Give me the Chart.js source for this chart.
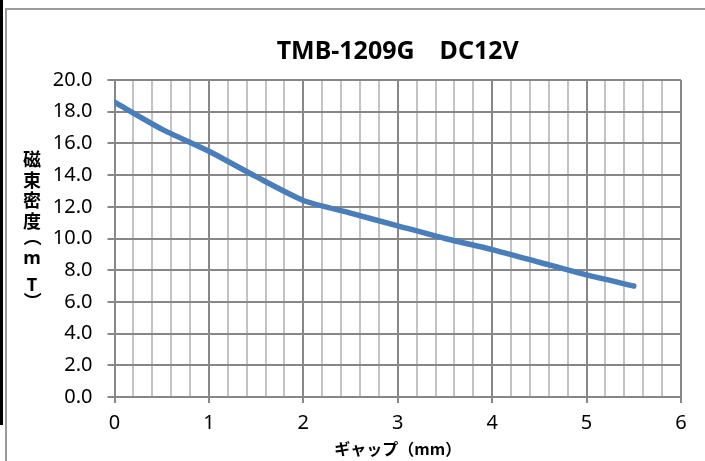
<!DOCTYPE html>
<html>
<head>
<meta charset="utf-8">
<script src="https://cdn.jsdelivr.net/npm/chart.js@4.4.1/dist/chart.umd.min.js"></script>
<style>
  html, body { margin: 0; padding: 0; background: #fff; }
  #wrap { position: relative; width: 705px; height: 461px; overflow: hidden; }
  #frameL { position: absolute; left: 0; top: 0; width: 3px; height: 425px; background: #000; }
  #frameG { position: absolute; left: 5px; top: 8px; right: -5px; bottom: -5px; border-left: 2px solid #9a9a9a; border-top: 2px solid #9a9a9a; }
  canvas { position: absolute; left: 0; top: 0; }
</style>
</head>
<body>
<div id="wrap">
  <div id="frameL"></div>
  <div id="frameG"></div>
  <canvas id="c" width="705" height="461"></canvas>
</div>
<script>
const chartTitle = 'TMB-1209G　DC12V';
const xAxisTitle = 'ギャップ（mm）';
const yAxisTitleChars = ['磁', '束', '密', '度', '（', 'm', 'T', '）'];
const gapMm = [0, 0.5, 1.0, 1.5, 2.0, 2.5, 3.0, 3.5, 4.0, 4.5, 5.0, 5.5];
const fluxMt = [18.6, 16.9, 15.5, 13.9, 12.4, 11.6, 10.8, 10.0, 9.3, 8.5, 7.7, 7.0];
const xTickLabels = [0, 1, 2, 3, 4, 5, 6];
const yTickLabels = ['0.0', '2.0', '4.0', '6.0', '8.0', '10.0', '12.0', '14.0', '16.0', '18.0', '20.0'];

const points = gapMm.map((x, i) => ({ x: x, y: fluxMt[i] }));
const isMajor = v => Math.abs(v - Math.round(v)) < 1e-6;

const yTitlePlugin = {
  id: 'yTitleStack',
  afterDraw(chart) {
    const ctx = chart.ctx;
    const ca = chart.chartArea;
    ctx.save();
    ctx.fillStyle = '#000';
    ctx.textAlign = 'center';
    ctx.textBaseline = 'middle';
    const offsets = [79, 100, 120, 141, 157, 179, 206, 221];
    yAxisTitleChars.forEach((ch, i) => {
      const y = ca.top + offsets[i];
      const latin = /[A-Za-z]/.test(ch);
      ctx.font = latin ? 'bold 18px "Noto Sans"' : 'bold 18px "Noto Sans CJK JP"';
      if (ch === '（' || ch === '）') {
        ctx.save();
        ctx.translate(33, y);
        ctx.rotate(Math.PI / 2);
        ctx.fillText(ch, 0, 0);
        ctx.restore();
      } else {
        ctx.fillText(ch, 32, y);
      }
    });
    ctx.restore();
  }
};

new Chart(document.getElementById('c'), {
  type: 'scatter',
  data: {
    datasets: [{
      data: points,
      showLine: true,
      borderColor: '#4a7ebb',
      borderWidth: 5.5,
      borderCapStyle: 'round',
      borderJoinStyle: 'round',
      pointRadius: 0,
      pointHoverRadius: 0,
      tension: 0.2,
      fill: false
    }]
  },
  options: {
    responsive: false,
    animation: false,
    events: [],
    layout: { padding: { left: 0, right: 24, top: 0, bottom: 0 } },
    plugins: {
      legend: { display: false },
      tooltip: { enabled: false },
      title: {
        display: true,
        fullSize: false,
        text: chartTitle,
        color: '#000',
        font: { family: '"Noto Sans", "Noto Sans CJK JP"', size: 25, weight: 'bold', lineHeight: 1.2 },
        padding: { top: 37, bottom: 13 }
      }
    },
    scales: {
      x: {
        type: 'linear',
        min: 0,
        max: 6,
        afterFit(scale) { scale.height = 64; },
        ticks: {
          stepSize: 0.2,
          autoSkip: false,
          maxRotation: 0,
          padding: 8,
          color: '#000',
          font: { family: '"Noto Sans"', size: 20 },
          callback: v => isMajor(v) && xTickLabels.includes(Math.round(v)) ? String(Math.round(v)) : ''
        },
        grid: {
          color: c => isMajor(c.tick.value) ? '#878787' : '#c3c3c3',
          lineWidth: 2,
          tickLength: 6,
          tickColor: c => isMajor(c.tick.value) ? '#878787' : 'rgba(0,0,0,0)'
        },
        border: { display: true, color: '#878787', width: 2 },
        title: {
          display: true,
          text: xAxisTitle,
          color: '#000',
          font: { family: '"Noto Sans CJK JP"', size: 16, weight: 'bold', lineHeight: 1.2 },
          padding: { top: 0, bottom: 2.4 }
        }
      },
      y: {
        type: 'linear',
        min: 0,
        max: 20,
        afterFit(scale) { scale.width = 114.5; },
        ticks: {
          stepSize: 2,
          padding: 15,
          color: '#000',
          font: { family: '"Noto Sans"', size: 20 },
          callback: (v, i) => yTickLabels[i]
        },
        grid: {
          color: '#878787',
          lineWidth: 2,
          tickLength: 7,
          tickColor: '#878787'
        },
        border: { display: true, color: '#878787', width: 2 }
      }
    }
  },
  plugins: [yTitlePlugin]
});
</script>
</body>
</html>
